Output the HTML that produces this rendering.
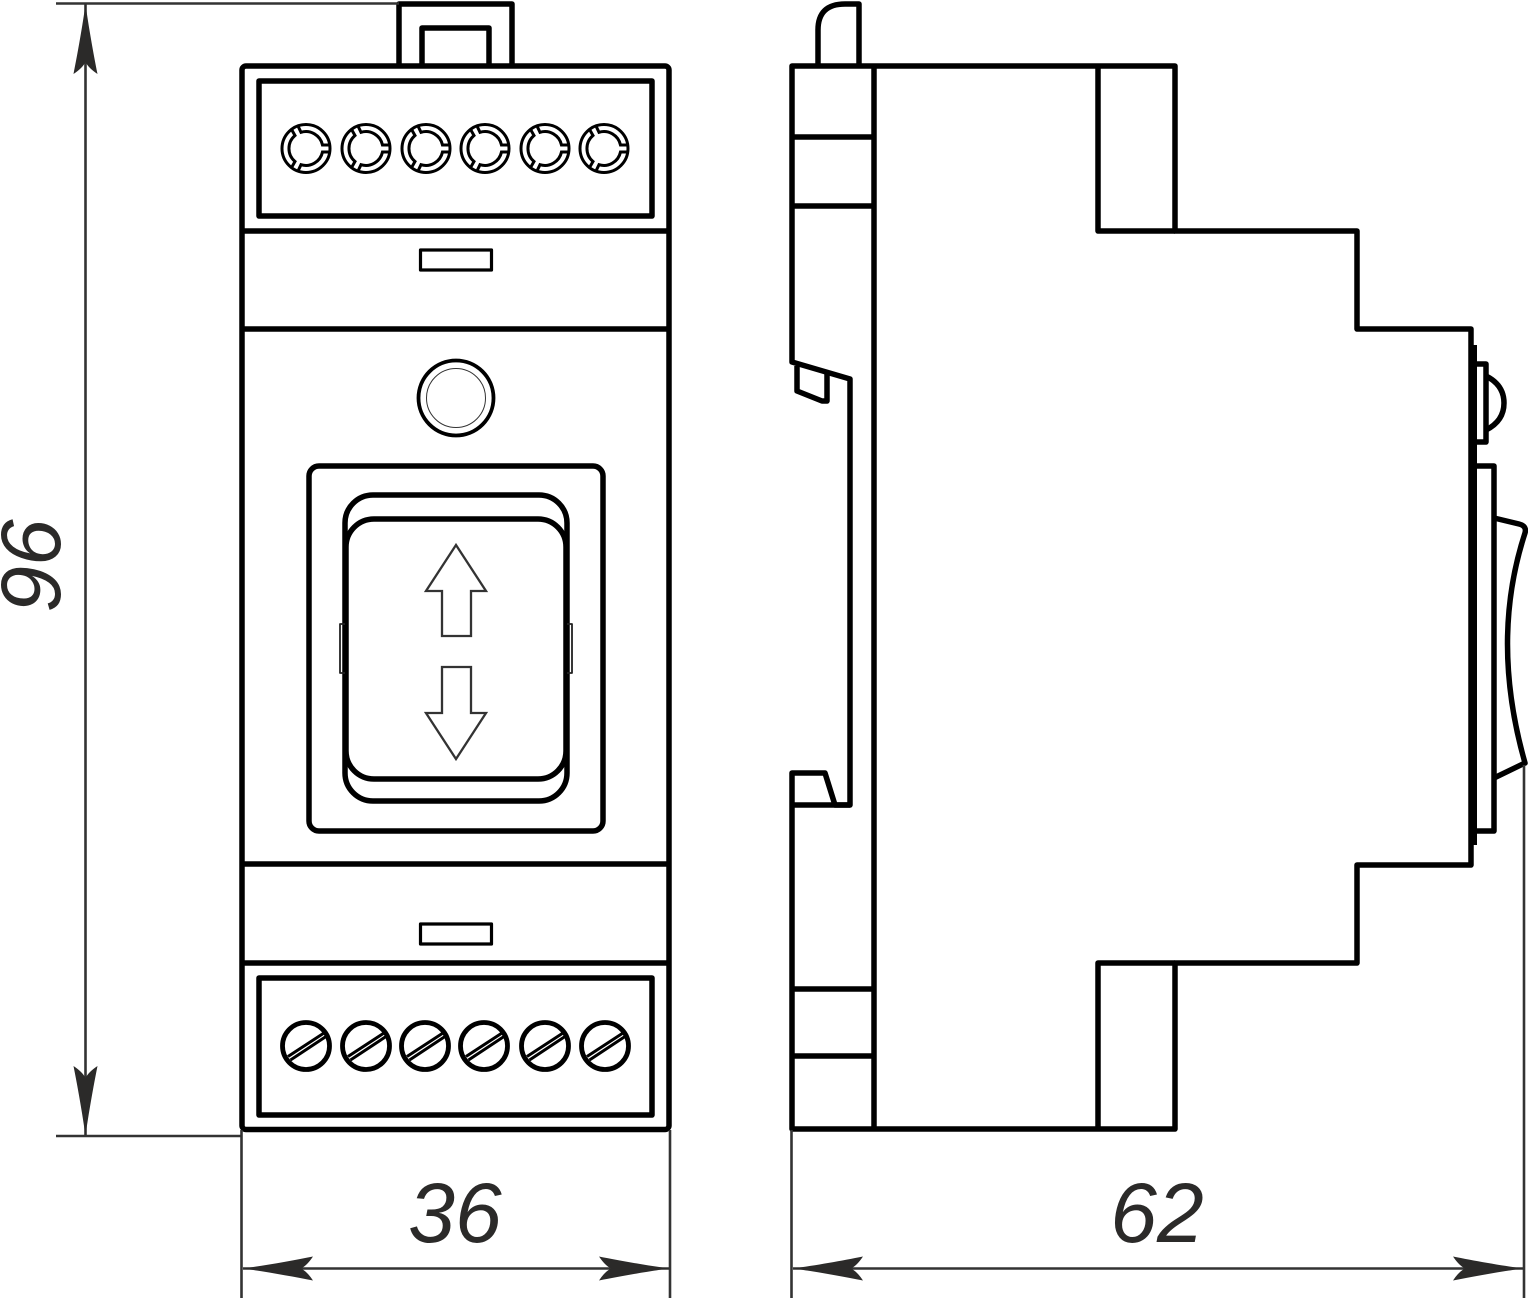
<!DOCTYPE html>
<html><head><meta charset="utf-8"><style>html,body{margin:0;padding:0;background:#fff}svg{display:block}</style></head><body>
<svg xmlns="http://www.w3.org/2000/svg" xmlns:xlink="http://www.w3.org/1999/xlink" width="1528" height="1298" viewBox="0 0 1528 1298">
<defs>
<g id="t" fill="none" stroke="#000" stroke-width="3">
<circle r="24"/>
<path d="M24 -3.500H16.500A17 17 0 0 0 -5 -16.200L-8 -22.500"/>
<path d="M24 3.500H16.500A17 17 0 0 1 -5 16.200L-8 22.500"/>
<path d="M-15 -20L-11 -13A17 17 0 0 0 -11 13L-15 20"/>
</g>
<g id="s" fill="none" stroke="#000">
<circle r="23.500" stroke-width="4.800"/>
<path d="M-18 10.500L18 -13M-15.500 14L20 -9.500" stroke-width="3"/>
</g>
<path id="av" fill="#2b2a29" d="M0 0C3 22 8 50 12 70C6 66 2 62 0 58C-2 62 -6 66 -12 70C-8 50 -3 22 0 0Z"/>
</defs>
<g fill="none" stroke="#000" stroke-width="5.500" stroke-linejoin="round">
<!-- Front view -->
<rect x="242" y="66" width="427" height="1063.500" rx="4"/>
<rect x="259" y="81" width="393" height="135"/>
<rect x="259" y="978" width="393" height="137"/>
<path d="M242 231H669M242 329H669M242 864H669M242 963H669"/>
<rect x="420.500" y="250" width="71" height="20" stroke-width="3.200"/>
<rect x="420.500" y="924" width="71" height="20" stroke-width="3.200"/>
<path d="M399 66V4H512V66M422 66V28H489V66"/>
<circle cx="456" cy="398" r="37.500" stroke-width="3.800"/>
<circle cx="456" cy="398" r="29.500" stroke-width="1" stroke="#333"/>
<rect x="309" y="466" width="294" height="365" rx="10"/>
<rect x="345" y="495" width="222" height="306" rx="28"/>
<rect x="346" y="519" width="220" height="260" rx="28"/>
<path d="M345 624H340V673H345M567 624H572V673H567" stroke-width="1.800" stroke="#222"/>
<path d="M456 545L426 591H442V636H471V591H486Z" stroke-width="2.300" stroke="#333" stroke-linejoin="miter"/>
<path d="M442 667H471V713H486L456 759L426 713H442Z" stroke-width="2.300" stroke="#333" stroke-linejoin="miter"/>
<!-- Side view -->
<path d="M792 66H1175V231H1357V329H1471V865H1357V963H1175V1129H792V773H825L835 805H850V379L792 362Z"/>
<path d="M792 805H850"/>
<path d="M797 366V391L822 401H827V372"/>
<path d="M874 66V1129M1098 66V231H1175M1098 1129V963H1175M792 137H874M792 206H874M792 989H874M792 1056H874"/>
<path d="M818 66V30Q818 4 845 4H859V66"/>
<path d="M1473.500 345V845" stroke-width="7" stroke-linejoin="miter"/>
<path d="M1476 364H1486V442H1476"/>
<path d="M1486 376Q1504 385 1504 403Q1504 421 1486 430"/>
<path d="M1476 466H1494V831H1476"/>
<path d="M1494 518L1519 524Q1527 526 1525 533Q1490 640 1525 763L1494 778"/>
</g>
<use xlink:href="#t" href="#t" x="306" y="148.500"/>
<use xlink:href="#t" href="#t" x="366" y="148.500"/>
<use xlink:href="#t" href="#t" x="426" y="148.500"/>
<use xlink:href="#t" href="#t" x="485" y="148.500"/>
<use xlink:href="#t" href="#t" x="545" y="148.500"/>
<use xlink:href="#t" href="#t" x="604" y="148.500"/>
<use xlink:href="#s" href="#s" x="306" y="1046"/>
<use xlink:href="#s" href="#s" x="366" y="1046"/>
<use xlink:href="#s" href="#s" x="425" y="1046"/>
<use xlink:href="#s" href="#s" x="484" y="1046"/>
<use xlink:href="#s" href="#s" x="545" y="1046"/>
<use xlink:href="#s" href="#s" x="605" y="1046"/>
<!-- Dimensions -->
<g fill="none" stroke="#333" stroke-width="2.600">
<path d="M56 3.500H399M56 1136H242M85.500 4V1136"/>
<path d="M241.500 1130V1298M670 1130V1298M791.500 1130V1298M1524 765V1298"/>
<path d="M243 1268.500H669M793 1268.500H1523"/>
</g>
<use xlink:href="#av" href="#av" transform="translate(85.500 4)"/>
<use xlink:href="#av" href="#av" transform="translate(85.500 1136) rotate(180)"/>
<use xlink:href="#av" href="#av" transform="translate(243 1268.500) rotate(-90)"/>
<use xlink:href="#av" href="#av" transform="translate(669 1268.500) rotate(90)"/>
<use xlink:href="#av" href="#av" transform="translate(793 1268.500) rotate(-90)"/>
<use xlink:href="#av" href="#av" transform="translate(1523 1268.500) rotate(90)"/>
<g font-family="'Liberation Sans',sans-serif" font-style="italic" font-size="84" fill="#2b2a29" text-anchor="middle">
<text x="455" y="1242">36</text>
<text x="1157" y="1242">62</text>
<text transform="translate(60 566) rotate(-90)">96</text>
</g>
</svg>
</body></html>
